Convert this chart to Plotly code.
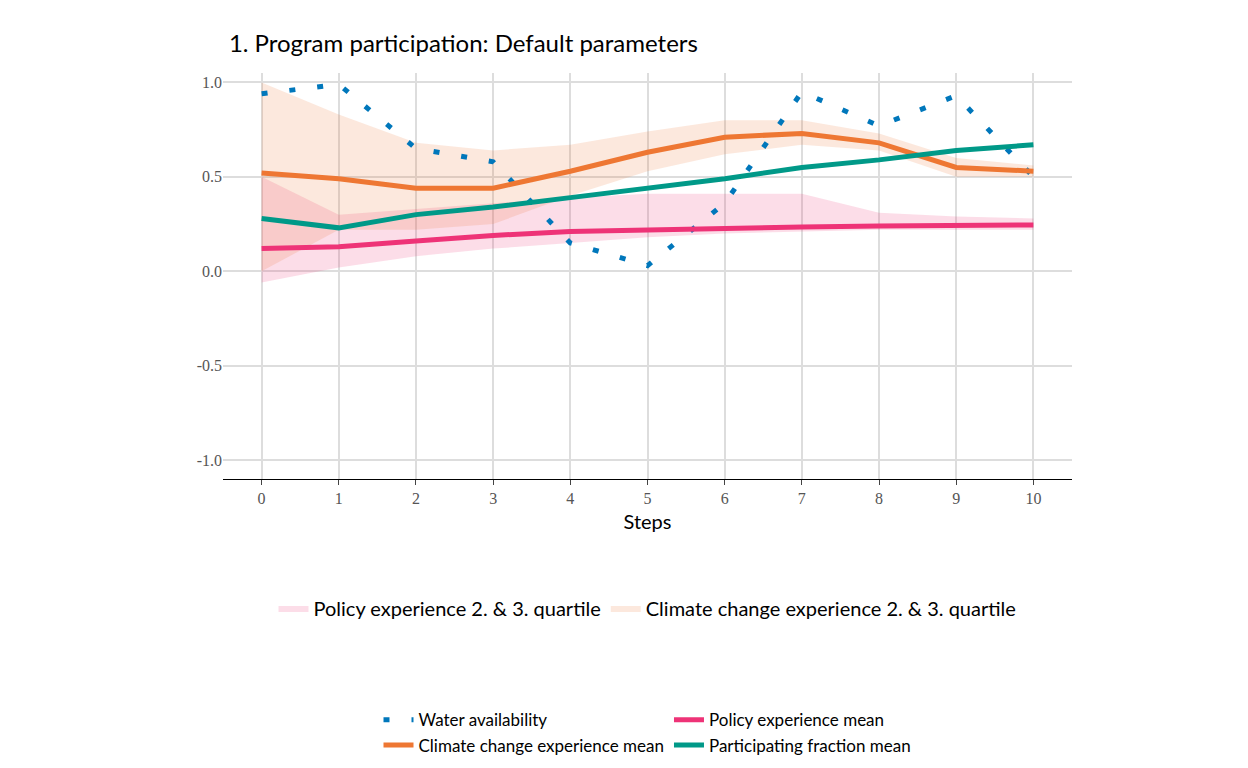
import plotly.graph_objects as go

steps = list(range(11))
water = [0.94, 0.99, 0.65, 0.58, 0.15, 0.03, 0.36, 0.95, 0.77, 0.93, 0.50]
policy_mean = [0.12, 0.13, 0.16, 0.19, 0.21, 0.22, 0.23, 0.235, 0.24, 0.245, 0.245]
policy_lo = [-0.06, 0.02, 0.08, 0.12, 0.15, 0.18, 0.20, 0.21, 0.22, 0.22, 0.22]
policy_hi = [0.50, 0.30, 0.33, 0.36, 0.39, 0.41, 0.41, 0.41, 0.31, 0.29, 0.28]
climate_mean = [0.52, 0.49, 0.44, 0.44, 0.53, 0.63, 0.71, 0.73, 0.68, 0.55, 0.53]
climate_lo = [0.00, 0.22, 0.22, 0.25, 0.40, 0.53, 0.62, 0.67, 0.64, 0.50, 0.50]
climate_hi = [1.00, 0.83, 0.68, 0.64, 0.67, 0.74, 0.80, 0.80, 0.73, 0.60, 0.56]
participating = [0.28, 0.23, 0.30, 0.34, 0.39, 0.44, 0.49, 0.55, 0.59, 0.64, 0.67]

fig = go.Figure()

# bands
fig.add_trace(go.Scatter(x=steps, y=policy_lo, mode='lines', line=dict(width=0),
                         showlegend=False, hoverinfo='skip'))
fig.add_trace(go.Scatter(x=steps, y=policy_hi, mode='lines', line=dict(width=0),
                         fill='tonexty', fillcolor='rgba(238,51,119,0.17)',
                         name='Policy experience 2. & 3. quartile', legend='legend2'))
fig.add_trace(go.Scatter(x=steps, y=climate_lo, mode='lines', line=dict(width=0),
                         showlegend=False, hoverinfo='skip'))
fig.add_trace(go.Scatter(x=steps, y=climate_hi, mode='lines', line=dict(width=0),
                         fill='tonexty', fillcolor='rgba(238,119,51,0.17)',
                         name='Climate change experience 2. & 3. quartile', legend='legend2'))

# lines
fig.add_trace(go.Scatter(x=steps, y=water, mode='lines', name='Water availability',
                         line=dict(color='#0077BB', width=5, dash='6px,22px')))
fig.add_trace(go.Scatter(x=steps, y=policy_mean, mode='lines', name='Policy experience mean',
                         line=dict(color='#EE3377', width=5)))
fig.add_trace(go.Scatter(x=steps, y=climate_mean, mode='lines', name='Climate change experience mean',
                         line=dict(color='#EE7733', width=5)))
fig.add_trace(go.Scatter(x=steps, y=participating, mode='lines', name='Participating fraction mean',
                         line=dict(color='#009988', width=5)))

fig.update_layout(
    width=1248, height=768,
    plot_bgcolor='white', paper_bgcolor='white',
    margin=dict(l=215, r=184, t=65, b=288),
    font=dict(family='Lato', size=19, color='black'),
    title=dict(text='1. Program participation: Default parameters', x=0.177, y=0.965,
               font=dict(size=24, family='Lato')),
    xaxis=dict(title=dict(text='Steps', standoff=8, font=dict(size=20)), range=[-0.5, 10.5],
               tickvals=steps,
               showgrid=True, gridcolor='#dddddd', gridwidth=1.5, zeroline=False,
               showline=True, linecolor='black', ticks='outside', ticklen=5,
               tickfont=dict(family='Liberation Serif', size=16, color='#555')),
    yaxis=dict(range=[-1.1, 1.05], tickvals=[-1, -0.5, 0, 0.5, 1],
               ticktext=['-1.0', '-0.5', '0.0', '0.5', '1.0'],
               showgrid=True, gridcolor='#dddddd', gridwidth=1.5, zeroline=False,
               tickfont=dict(family='Liberation Serif', size=16, color='#555')),
    legend=dict(orientation='h', x=0.5, xanchor='center', y=-0.55, yanchor='top',
                font=dict(size=17), traceorder='normal'),
    legend2=dict(orientation='h', x=0.5, xanchor='center', y=-0.27, yanchor='top',
                 font=dict(size=20), traceorder='normal'),
)

fig.write_html("out.html")
